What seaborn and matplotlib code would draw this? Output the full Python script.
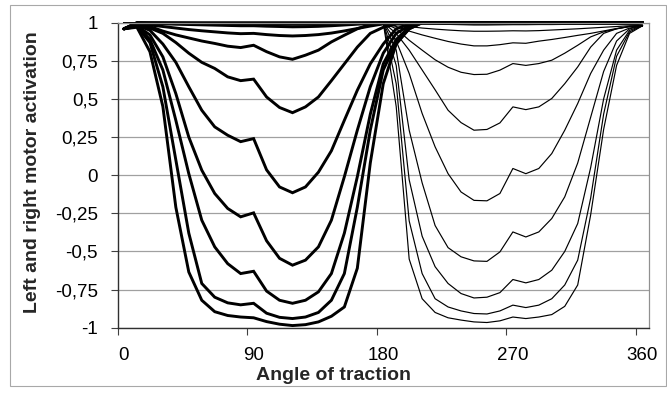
import matplotlib
matplotlib.use("Agg")
import matplotlib.pyplot as plt
from matplotlib.patches import Rectangle
from matplotlib.ticker import FuncFormatter
import seaborn as sns
import pandas as pd

# Angle of traction, one category every 9 degrees
angles = [0, 9, 18, 27, 36, 45, 54, 63, 72, 81, 90, 99, 108, 117, 126, 135, 144, 153, 162, 171,
          180, 189, 198, 207, 216, 225, 234, 243, 252, 261, 270, 279, 288, 297, 306, 315, 324,
          333, 342, 351, 360]

# Left motor activation (one series per gain setting)
left_0 = [0.96, 1.0, 1.0, 1.0, 1.0, 1.0, 1.0, 1.0, 1.0, 1.0, 1.0, 1.0, 1.0, 1.0, 1.0, 1.0, 1.0,
          1.0, 1.0, 1.0, 1.0, 1.0, 1.0, 1.0, 1.0, 1.0, 1.0, 1.0, 1.0, 1.0, 1.0, 1.0, 1.0, 1.0,
          1.0, 1.0, 1.0, 1.0, 1.0, 1.0, 1.0]
left_1 = [0.96, 1.0, 0.999, 0.998, 0.997, 0.996, 0.995, 0.994, 0.993, 0.992, 0.992, 0.991,
          0.99, 0.99, 0.99, 0.991, 0.993, 0.995, 0.997, 0.999, 1.0, 1.0, 1.0, 1.0, 1.0, 1.0,
          1.0, 1.0, 1.0, 1.0, 1.0, 1.0, 1.0, 1.0, 1.0, 1.0, 1.0, 1.0, 1.0, 1.0, 1.0]
left_2 = [0.96, 0.997, 0.995, 0.993, 0.99, 0.988, 0.986, 0.984, 0.982, 0.98, 0.98, 0.977,
          0.975, 0.973, 0.974, 0.976, 0.98, 0.985, 0.99, 0.995, 1.0, 1.0, 1.0, 1.0, 1.0, 1.0,
          1.0, 1.0, 1.0, 1.0, 1.0, 1.0, 1.0, 1.0, 1.0, 1.0, 1.0, 1.0, 1.0, 1.0, 1.0]
left_3 = [0.96, 0.993, 0.985, 0.975, 0.965, 0.955, 0.947, 0.94, 0.933, 0.928, 0.93, 0.922,
          0.916, 0.913, 0.916, 0.922, 0.932, 0.946, 0.962, 0.978, 0.992, 1.0, 1.0, 1.0, 1.0,
          1.0, 1.0, 1.0, 1.0, 1.0, 1.0, 1.0, 1.0, 1.0, 1.0, 1.0, 1.0, 1.0, 1.0, 1.0, 1.0]
left_4 = [0.96, 0.99, 0.975, 0.945, 0.92, 0.9, 0.88, 0.864, 0.846, 0.837, 0.852, 0.81, 0.776,
          0.76, 0.787, 0.82, 0.874, 0.918, 0.96, 0.99, 1.0, 1.0, 1.0, 1.0, 1.0, 1.0, 1.0, 1.0,
          1.0, 1.0, 1.0, 1.0, 1.0, 1.0, 1.0, 1.0, 1.0, 1.0, 1.0, 1.0, 1.0]
left_5 = [0.96, 0.99, 0.965, 0.93, 0.87, 0.8, 0.74, 0.7, 0.645, 0.62, 0.63, 0.513, 0.444,
          0.41, 0.448, 0.513, 0.62, 0.73, 0.84, 0.93, 0.97, 0.99, 1.0, 1.0, 1.0, 1.0, 1.0,
          1.0, 1.0, 1.0, 1.0, 1.0, 1.0, 1.0, 1.0, 1.0, 1.0, 1.0, 1.0, 1.0, 1.0]
left_6 = [0.96, 0.985, 0.95, 0.86, 0.74, 0.58, 0.426, 0.317, 0.262, 0.22, 0.24, 0.035,
          -0.077, -0.115, -0.077, 0.02, 0.16, 0.36, 0.557, 0.73, 0.86, 0.96, 0.99, 1.0, 1.0,
          1.0, 1.0, 1.0, 1.0, 1.0, 1.0, 1.0, 1.0, 1.0, 1.0, 1.0, 1.0, 1.0, 1.0, 1.0, 1.0]
left_7 = [0.96, 0.98, 0.92, 0.776, 0.535, 0.25, 0.033, -0.12, -0.218, -0.273, -0.247, -0.43,
          -0.545, -0.59, -0.557, -0.47, -0.295, -0.01, 0.295, 0.58, 0.8, 0.93, 0.98, 1.0,
          1.0, 1.0, 1.0, 1.0, 1.0, 1.0, 1.0, 1.0, 1.0, 1.0, 1.0, 1.0, 1.0, 1.0, 1.0, 1.0, 1.0]
left_8 = [0.96, 0.98, 0.89, 0.69, 0.36, 0.01, -0.295, -0.47, -0.58, -0.645, -0.63, -0.76,
          -0.82, -0.84, -0.82, -0.765, -0.645, -0.38, -0.01, 0.4, 0.73, 0.89, 0.97, 1.0,
          1.0, 1.0, 1.0, 1.0, 1.0, 1.0, 1.0, 1.0, 1.0, 1.0, 1.0, 1.0, 1.0, 1.0, 1.0, 1.0, 1.0]
left_9 = [0.96, 0.975, 0.87, 0.58, 0.1, -0.38, -0.71, -0.8, -0.837, -0.85, -0.84, -0.905,
          -0.932, -0.94, -0.93, -0.9, -0.82, -0.645, -0.21, 0.295, 0.69, 0.87, 0.96, 1.0,
          1.0, 1.0, 1.0, 1.0, 1.0, 1.0, 1.0, 1.0, 1.0, 1.0, 1.0, 1.0, 1.0, 1.0, 1.0, 1.0, 1.0]
left_10 = [0.96, 0.97, 0.81, 0.45, -0.21, -0.635, -0.82, -0.895, -0.92, -0.93, -0.935, -0.96,
           -0.977, -0.986, -0.98, -0.962, -0.925, -0.864, -0.61, 0.08, 0.6, 0.86, 0.96, 1.0,
           1.0, 1.0, 1.0, 1.0, 1.0, 1.0, 1.0, 1.0, 1.0, 1.0, 1.0, 1.0, 1.0, 1.0, 1.0, 1.0, 1.0]

# Right motor activation
right_0 = [1.0, 1.0, 1.0, 1.0, 1.0, 1.0, 1.0, 1.0, 1.0, 1.0, 1.0, 1.0, 1.0, 1.0, 1.0, 1.0, 1.0,
           1.0, 1.0, 1.0, 1.0, 1.0, 1.0, 1.0, 1.0, 1.0, 1.0, 1.0, 1.0, 1.0, 1.0, 1.0, 1.0, 1.0,
           1.0, 1.0, 1.0, 1.0, 1.0, 1.0, 0.98]
right_1 = [1.0, 1.0, 1.0, 1.0, 1.0, 1.0, 1.0, 1.0, 1.0, 1.0, 1.0, 1.0, 1.0, 1.0, 1.0, 1.0, 1.0,
           1.0, 1.0, 1.0, 1.0, 0.998, 0.995, 0.993, 0.991, 0.989, 0.987, 0.985, 0.985, 0.986,
           0.987, 0.987, 0.988, 0.988, 0.989, 0.99, 0.99, 0.99, 0.99, 0.99, 0.98]
right_2 = [1.0, 1.0, 1.0, 1.0, 1.0, 1.0, 1.0, 1.0, 1.0, 1.0, 1.0, 1.0, 1.0, 1.0, 1.0, 1.0, 1.0,
           1.0, 1.0, 1.0, 1.0, 0.99, 0.975, 0.965, 0.958, 0.952, 0.947, 0.944, 0.944, 0.945,
           0.947, 0.946, 0.948, 0.952, 0.956, 0.96, 0.965, 0.97, 0.975, 0.98, 0.98]
right_3 = [1.0, 1.0, 1.0, 1.0, 1.0, 1.0, 1.0, 1.0, 1.0, 1.0, 1.0, 1.0, 1.0, 1.0, 1.0, 1.0, 1.0,
           1.0, 1.0, 1.0, 1.0, 0.975, 0.945, 0.92, 0.898, 0.877, 0.86, 0.848, 0.848, 0.856,
           0.868, 0.865, 0.879, 0.89, 0.903, 0.917, 0.93, 0.946, 0.962, 0.975, 0.98]
right_4 = [1.0, 1.0, 1.0, 1.0, 1.0, 1.0, 1.0, 1.0, 1.0, 1.0, 1.0, 1.0, 1.0, 1.0, 1.0, 1.0, 1.0,
           1.0, 1.0, 1.0, 1.0, 0.96, 0.885, 0.82, 0.757, 0.708, 0.675, 0.66, 0.662, 0.689,
           0.732, 0.72, 0.732, 0.754, 0.8, 0.852, 0.907, 0.94, 0.96, 0.975, 0.98]
right_5 = [1.0, 1.0, 1.0, 1.0, 1.0, 1.0, 1.0, 1.0, 1.0, 1.0, 1.0, 1.0, 1.0, 1.0, 1.0, 1.0, 1.0,
           1.0, 1.0, 1.0, 1.0, 0.93, 0.82, 0.69, 0.56, 0.426, 0.345, 0.295, 0.3, 0.343,
           0.448, 0.43, 0.448, 0.503, 0.6, 0.71, 0.84, 0.93, 0.96, 0.975, 0.98]
right_6 = [1.0, 1.0, 1.0, 1.0, 1.0, 1.0, 1.0, 1.0, 1.0, 1.0, 1.0, 1.0, 1.0, 1.0, 1.0, 1.0, 1.0,
           1.0, 1.0, 1.0, 1.0, 0.88, 0.667, 0.405, 0.186, 0.01, -0.11, -0.165, -0.168, -0.12,
           0.044, 0.01, 0.044, 0.142, 0.295, 0.47, 0.667, 0.82, 0.93, 0.965, 0.98]
right_7 = [1.0, 1.0, 1.0, 1.0, 1.0, 1.0, 1.0, 1.0, 1.0, 1.0, 1.0, 1.0, 1.0, 1.0, 1.0, 1.0, 1.0,
           1.0, 1.0, 1.0, 1.0, 0.82, 0.295, -0.05, -0.33, -0.475, -0.535, -0.562, -0.565,
           -0.503, -0.372, -0.405, -0.372, -0.284, -0.142, 0.08, 0.38, 0.68, 0.88, 0.96, 0.98]
right_8 = [1.0, 1.0, 1.0, 1.0, 1.0, 1.0, 1.0, 1.0, 1.0, 1.0, 1.0, 1.0, 1.0, 1.0, 1.0, 1.0, 1.0,
           1.0, 1.0, 1.0, 1.0, 0.72, -0.03, -0.4, -0.6, -0.71, -0.776, -0.805, -0.8, -0.77,
           -0.684, -0.706, -0.684, -0.623, -0.5, -0.317, 0.05, 0.5, 0.82, 0.95, 0.98]
right_9 = [1.0, 1.0, 1.0, 1.0, 1.0, 1.0, 1.0, 1.0, 1.0, 1.0, 1.0, 1.0, 1.0, 1.0, 1.0, 1.0, 1.0,
           1.0, 1.0, 1.0, 1.0, 0.6, -0.3, -0.645, -0.81, -0.864, -0.89, -0.907, -0.91, -0.89,
           -0.852, -0.868, -0.852, -0.81, -0.72, -0.557, -0.15, 0.4, 0.78, 0.94, 0.98]
right_10 = [1.0, 1.0, 1.0, 1.0, 1.0, 1.0, 1.0, 1.0, 1.0, 1.0, 1.0, 1.0, 1.0, 1.0, 1.0, 1.0,
            1.0, 1.0, 1.0, 1.0, 1.0, 0.45, -0.55, -0.81, -0.9, -0.935, -0.95, -0.962, -0.966,
            -0.955, -0.93, -0.94, -0.93, -0.914, -0.86, -0.72, -0.26, 0.3, 0.72, 0.93, 0.98]

left_series = [left_0, left_1, left_2, left_3, left_4, left_5, left_6, left_7, left_8,
               left_9, left_10]
right_series = [right_0, right_1, right_2, right_3, right_4, right_5, right_6, right_7,
                right_8, right_9, right_10]

y_ticks = [-1, -0.75, -0.5, -0.25, 0, 0.25, 0.5, 0.75, 1]
x_labels = [0, 90, 180, 270, 360]

sns.set_theme(style="white")
plt.rcParams["font.family"] = ["Liberation Sans", "DejaVu Sans"]
plt.rcParams["axes.unicode_minus"] = False

W, H = 667, 396
fig = plt.figure(figsize=(W / 100, H / 100), dpi=100)
fig.patch.set_facecolor("white")

# plot area in pixel terms
left_px, right_px, top_px, bottom_px = 117.5, 649.0, 22.7, 327.7
ax = fig.add_axes([left_px / W, 1 - bottom_px / H,
                   (right_px - left_px) / W, (bottom_px - top_px) / H])

rows = []
for k, s in enumerate(left_series):
    rows += [{"angle": a, "value": v, "series": f"L{k}", "motor": "left"}
             for a, v in zip(angles, s)]
for k, s in enumerate(right_series):
    rows += [{"angle": a, "value": v, "series": f"R{k}", "motor": "right"}
             for a, v in zip(angles, s)]
df = pd.DataFrame(rows)

sns.lineplot(data=df[df.motor == "right"], x="angle", y="value", units="series",
             estimator=None, color="black", linewidth=0.85, ax=ax, sort=False)
sns.lineplot(data=df[df.motor == "left"], x="angle", y="value", units="series",
             estimator=None, color="black", linewidth=2.1, ax=ax, sort=False,
             solid_joinstyle="miter")
# let the series run over the plot-area edge instead of being cut in half
for ln in ax.lines:
    ln.set_clip_on(False)

ax.set_xlim(-4.5, 364.5)
ax.set_ylim(-1, 1)

# tick marks sit between categories, labels on the category
ax.set_xticks([-4.5, 85.5, 175.5, 265.5, 355.5])
ax.set_xticklabels([])
ax.set_xticks(x_labels, minor=True)
ax.set_xticklabels([str(v) for v in x_labels], minor=True)
ax.tick_params(axis="x", which="major", direction="out", length=5, width=0.8,
               color="#404040", bottom=True)
ax.tick_params(axis="x", which="minor", length=0, pad=14, labelsize=13.5,
               labelcolor="black", bottom=True)

ax.set_yticks(y_ticks)
ax.yaxis.set_major_formatter(FuncFormatter(lambda v, p: f"{v:g}".replace(".", ",")))
ax.tick_params(axis="y", direction="out", length=5, width=0.8, color="#404040",
               pad=9, labelsize=13.5, labelcolor="black", left=True)

ax.grid(axis="y", color="#a0a0a0", linewidth=0.9)
ax.grid(axis="x", visible=False)
ax.set_axisbelow(True)

for side in ("left", "bottom"):
    ax.spines[side].set_color("#303030")
    ax.spines[side].set_linewidth(1.0)
for side in ("right", "top"):
    ax.spines[side].set_color("#909090")
    ax.spines[side].set_linewidth(0.9)

ax.set_xlabel("")
ax.set_ylabel("")
fig.text(333.5 / W, 1 - 376 / H, "Angle of traction", ha="center", va="center",
         fontsize=14, fontweight="bold")
fig.text(32.5 / W, 1 - 172 / H, "Left and right motor activation", ha="center",
         va="center", rotation=90, fontsize=14, fontweight="bold")

# chart area border
fig.patches.append(Rectangle((10 / W, 1 - 386 / H), (665.5 - 10) / W, (386 - 5) / H,
                             transform=fig.transFigure, fill=False,
                             edgecolor="#a8a8a8", linewidth=0.8))

fig.savefig("out.png", dpi=100)
